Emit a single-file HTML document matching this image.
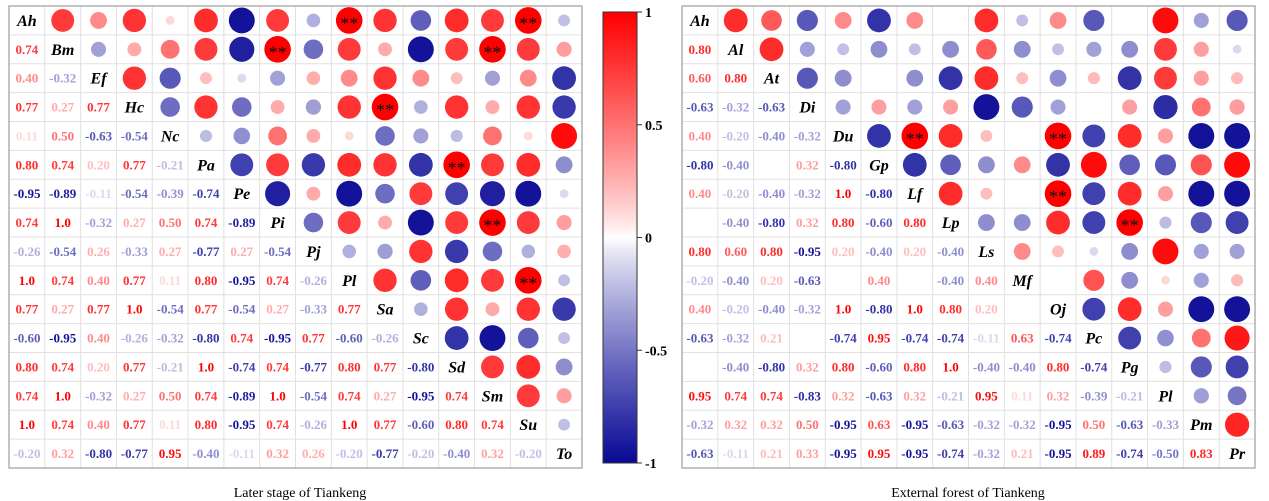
<!DOCTYPE html>
<html><head><meta charset="utf-8">
<style>
html,body{margin:0;padding:0;background:#fff;}
svg{display:block;}
</style></head>
<body>
<svg id="s" width="1269" height="501" xmlns="http://www.w3.org/2000/svg" font-family="'Liberation Serif', serif"></svg>
<script>
const NS="http://www.w3.org/2000/svg";
const svg=document.getElementById('s');
function el(t,a,txt){const e=document.createElementNS(NS,t);for(const k in a)e.setAttribute(k,a[k]);if(txt!==undefined)e.textContent=txt;svg.appendChild(e);return e;}
function col(v){
  if(v>=0){const a=Math.pow(Math.min(v,1),0.85);const g=Math.round(255*(1-a));return `rgb(255,${g},${g})`;}
  const a=Math.pow(Math.min(-v,1),0.85);
  return `rgb(${Math.round(255-247*a)},${Math.round(255-247*a)},${Math.round(255-105*a)})`;
}
const N=null;
const L1=["Ah","Bm","Ef","Hc","Nc","Pa","Pe","Pi","Pj","Pl","Sa","Sc","Sd","Sm","Su","To"];
const M1=[[],
[0.74],
[0.40,-0.32],
[0.77,0.27,0.77],
[0.11,0.50,-0.63,-0.54],
[0.80,0.74,0.20,0.77,-0.21],
[-0.95,-0.89,-0.11,-0.54,-0.39,-0.74],
[0.74,1.0,-0.32,0.27,0.50,0.74,-0.89],
[-0.26,-0.54,0.26,-0.33,0.27,-0.77,0.27,-0.54],
[1.0,0.74,0.40,0.77,0.11,0.80,-0.95,0.74,-0.26],
[0.77,0.27,0.77,1.0,-0.54,0.77,-0.54,0.27,-0.33,0.77],
[-0.60,-0.95,0.40,-0.26,-0.32,-0.80,0.74,-0.95,0.77,-0.60,-0.26],
[0.80,0.74,0.20,0.77,-0.21,1.0,-0.74,0.74,-0.77,0.80,0.77,-0.80],
[0.74,1.0,-0.32,0.27,0.50,0.74,-0.89,1.0,-0.54,0.74,0.27,-0.95,0.74],
[1.0,0.74,0.40,0.77,0.11,0.80,-0.95,0.74,-0.26,1.0,0.77,-0.60,0.80,0.74],
[-0.20,0.32,-0.80,-0.77,0.95,-0.40,-0.11,0.32,0.26,-0.20,-0.77,-0.20,-0.40,0.32,-0.20]];
const L2=["Ah","Al","At","Di","Du","Gp","Lf","Lp","Ls","Mf","Oj","Pc","Pg","Pl","Pm","Pr"];
const M2=[[],
[0.80],
[0.60,0.80],
[-0.63,-0.32,-0.63],
[0.40,-0.20,-0.40,-0.32],
[-0.80,-0.40,N,0.32,-0.80],
[0.40,-0.20,-0.40,-0.32,1.0,-0.80],
[N,-0.40,-0.80,0.32,0.80,-0.60,0.80],
[0.80,0.60,0.80,-0.95,0.20,-0.40,0.20,-0.40],
[-0.20,-0.40,0.20,-0.63,N,0.40,N,-0.40,0.40],
[0.40,-0.20,-0.40,-0.32,1.0,-0.80,1.0,0.80,0.20,N],
[-0.63,-0.32,0.21,N,-0.74,0.95,-0.74,-0.74,-0.11,0.63,-0.74],
[N,-0.40,-0.80,0.32,0.80,-0.60,0.80,1.0,-0.40,-0.40,0.80,-0.74],
[0.95,0.74,0.74,-0.83,0.32,-0.63,0.32,-0.21,0.95,0.11,0.32,-0.39,-0.21],
[-0.32,0.32,0.32,0.50,-0.95,0.63,-0.95,-0.63,-0.32,-0.32,-0.95,0.50,-0.63,-0.33],
[-0.63,-0.11,0.21,0.33,-0.95,0.95,-0.95,-0.74,-0.32,0.21,-0.95,0.89,-0.74,-0.50,0.83]];
function fmt(v){if(Math.abs(v)>=0.999)return (v<0?"-":"")+"1.0";return v.toFixed(2);}
function draw(x0,y0,labels,M){
  const W=573,H=462,n=16,cw=W/n,ch=H/n;
  for(let i=1;i<n;i++){
    el('line',{x1:x0+i*cw,y1:y0,x2:x0+i*cw,y2:y0+H,stroke:'#e0e0e0','stroke-width':1});
    el('line',{x1:x0,y1:y0+i*ch,x2:x0+W,y2:y0+i*ch,stroke:'#e0e0e0','stroke-width':1});
  }
  el('rect',{x:x0,y:y0,width:W,height:H,fill:'none',stroke:'#b0b0b0','stroke-width':1.5});
  for(let r=0;r<n;r++)for(let c=0;c<n;c++){
    const cx=x0+(c+0.5)*cw, cy=y0+(r+0.5)*ch;
    if(r===c){el('text',{x:cx,y:cy+5.5,'text-anchor':'middle','font-size':16,'font-weight':'bold','font-style':'italic',fill:'#000'},labels[r]);continue;}
    const v = r>c ? M[r][c] : M[c][r];
    if(v===N||v===undefined)continue;
    if(r>c){
      el('text',{x:cx,y:cy+4.5,'text-anchor':'middle','font-size':13,'font-weight':'bold',fill:col(v)},fmt(v));
    }else{
      const rad=13.3*Math.sqrt(Math.abs(v));
      el('circle',{cx:cx,cy:cy,r:rad,fill:col(v)});
      if(Math.abs(v)>=0.999) el('text',{x:cx,y:cy+9,'text-anchor':'middle','font-size':18,fill:'#111'},"**");
    }
  }
}
draw(9,6,L1,M1);
draw(682,6,L2,M2);
const defs=el('defs',{});
const g=document.createElementNS(NS,'linearGradient');
g.setAttribute('id','cb');g.setAttribute('x1','0');g.setAttribute('y1','0');g.setAttribute('x2','0');g.setAttribute('y2','1');
for(let i=0;i<=40;i++){const v=1-i/20;const st=document.createElementNS(NS,'stop');st.setAttribute('offset',i/40);st.setAttribute('stop-color',col(v));g.appendChild(st);}
defs.appendChild(g);
el('rect',{x:603,y:12,width:34,height:451,fill:'url(#cb)',stroke:'#333','stroke-width':1});
const ticks=[["1",12],["0.5",124.75],["0",237.5],["-0.5",350.25],["-1",463]];
for(const [t,y] of ticks){
  el('line',{x1:637,y1:y,x2:642,y2:y,stroke:'#333','stroke-width':1});
  el('text',{x:645,y:y+5,'font-size':14,'font-weight':'bold',fill:'#000'},t);
}
el('text',{x:300,y:497,'text-anchor':'middle','font-size':14,fill:'#000'},"Later stage of Tiankeng");
el('text',{x:968,y:497,'text-anchor':'middle','font-size':14,fill:'#000'},"External forest of Tiankeng");
</script>
</body></html>
